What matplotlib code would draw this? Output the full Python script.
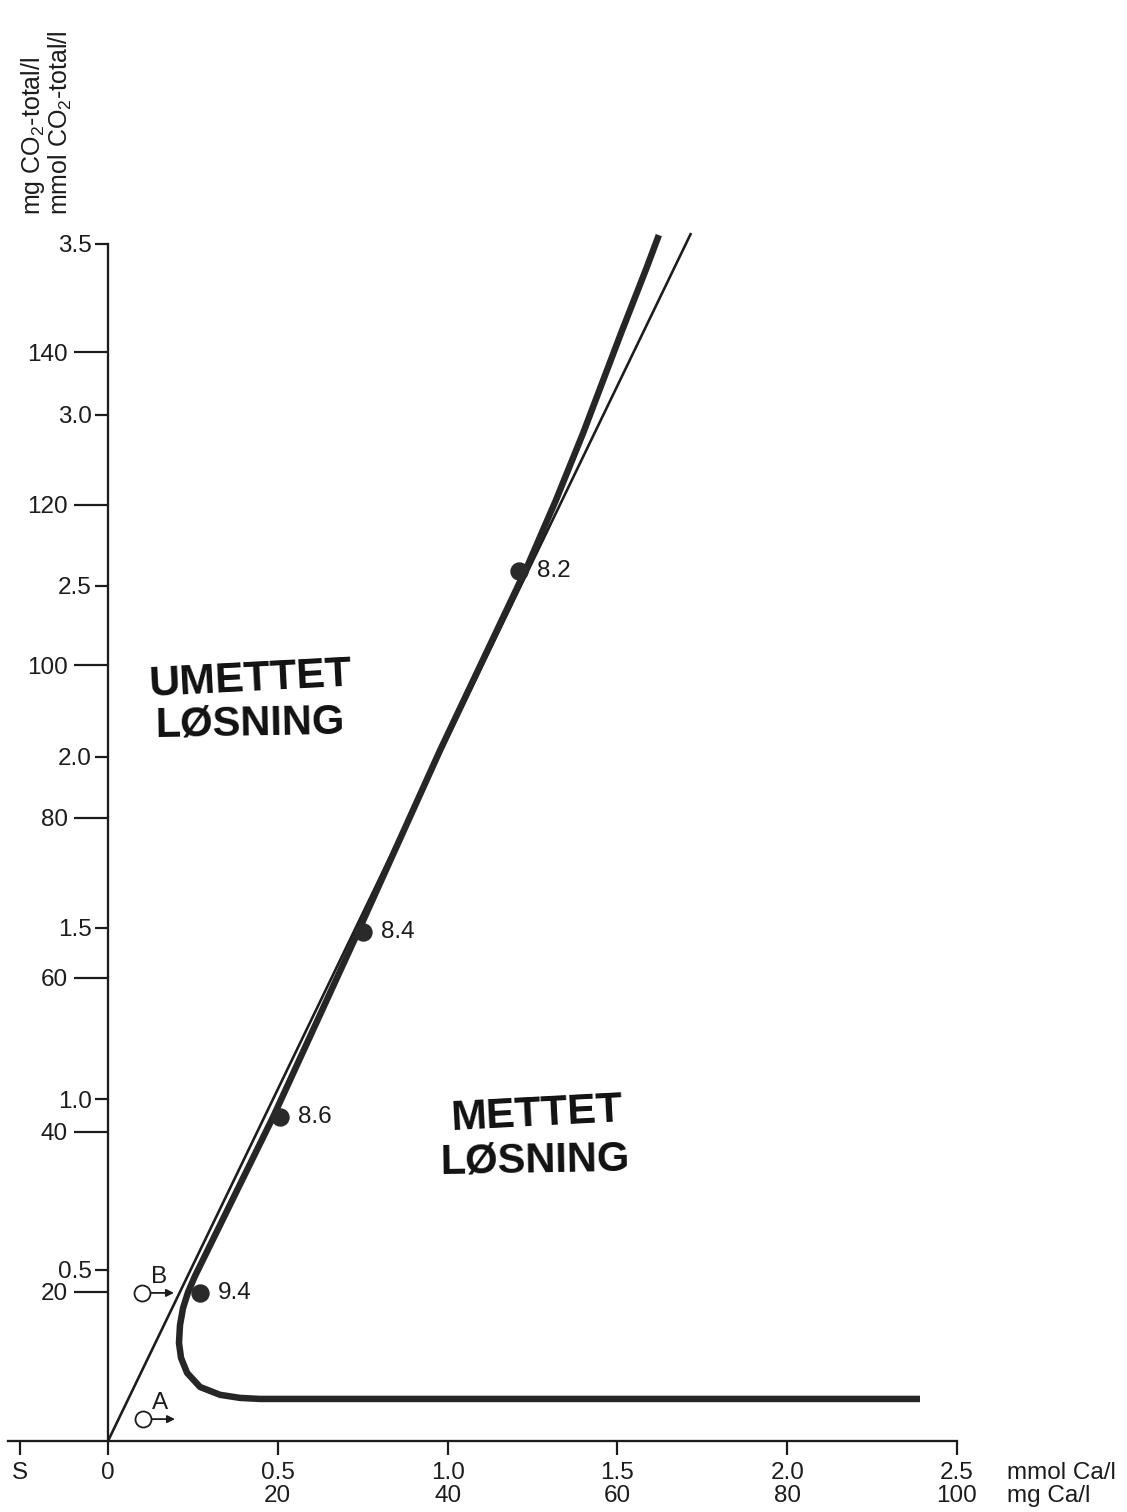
import matplotlib
matplotlib.use('Agg')
import matplotlib.pyplot as plt

plt.rcParams['font.family'] = ['Liberation Sans', 'DejaVu Sans']
plt.rcParams['mathtext.fontset'] = 'custom'
plt.rcParams['mathtext.rm'] = 'Liberation Sans'
plt.rcParams['mathtext.it'] = 'Liberation Sans:italic'

INK = '#1c1c1c'

# ---------------- data (mmol/l) ----------------
# thin reference line (CO2-total vs Ca)
line_ca = [0.0, 1.717]
line_co2 = [0.0, 3.532]

# thick saturation curve
curve_ca = [2.391, 0.448, 0.389, 0.330, 0.271, 0.233, 0.215, 0.209, 0.212,
            0.221, 0.236, 0.256, 0.486, 0.736, 0.978, 1.234, 1.319, 1.399,
            1.511, 1.587, 1.622]
curve_co2 = [0.123, 0.123, 0.126, 0.135, 0.158, 0.199, 0.243, 0.287, 0.339,
             0.389, 0.436, 0.482, 0.947, 1.488, 2.020, 2.556, 2.751, 2.947,
             3.240, 3.433, 3.526]

# pH points on the curve
ph_labels = ['9.4', '8.6', '8.4', '8.2']
ph_ca = [0.271, 0.506, 0.751, 1.210]
ph_co2 = [0.433, 0.947, 1.488, 2.544]

# start points A and B
start_labels = ['A', 'B']
start_ca = [0.103, 0.100]
start_co2 = [0.064, 0.433]

# axis ticks
y_mmol_ticks = [0.5, 1.0, 1.5, 2.0, 2.5, 3.0, 3.5]
y_mg_ticks = [20, 40, 60, 80, 100, 120, 140]
# where each mg CO2 tick falls on the mmol scale
y_mg_tick_mmol = [0.436, 0.904, 1.354, 1.822, 2.269, 2.737, 3.184]
x_mmol_ticks = [0.0, 0.5, 1.0, 1.5, 2.0, 2.5]
x_mg_ticks = [None, 20, 40, 60, 80, 100]
s_tick = -0.26

# ---------------- figure ----------------
W, H = 1127, 1512
fig = plt.figure(figsize=(W / 100, H / 100), dpi=100)
ax = fig.add_axes([0, 0, 1, 1])
ax.patch.set_alpha(0)

sx = 339.6   # px per mmol (x)
sy = 342.0   # px per mmol (y)
x0px, y0px = 108, 1441
ax.set_xlim(-x0px / sx, (W - x0px) / sx)
ax.set_ylim(-(H - y0px) / sy, y0px / sy)

PT = 0.72  # points per pixel at 100 dpi

# spines
for s in ['top', 'right']:
    ax.spines[s].set_visible(False)
ax.spines['left'].set_position(('data', 0))
ax.spines['bottom'].set_position(('data', 0))
ax.spines['left'].set_bounds(0, 3.5)
ax.spines['bottom'].set_bounds(-0.295, 2.5)
for s in ['left', 'bottom']:
    ax.spines[s].set_linewidth(2.3 * PT)
    ax.spines[s].set_color(INK)

# y ticks: mmol (major, short) and mg (minor, long)
ax.set_yticks(y_mmol_ticks, labels=[f'{v:.1f}' for v in y_mmol_ticks])
ax.set_yticks(y_mg_tick_mmol, labels=[str(v) for v in y_mg_ticks], minor=True)
ax.tick_params(axis='y', which='major', direction='out', length=13 * PT,
               width=2.2 * PT, pad=3 * PT, labelsize=17.5, colors=INK)
ax.tick_params(axis='y', which='minor', direction='out', length=34 * PT,
               width=2.2 * PT, pad=6 * PT, labelsize=17.5, colors=INK)

# x ticks
xt = [s_tick] + x_mmol_ticks
xl = ['S'] + [f'{m:g}' if g is None else f'{m:.1f}\n{g}'
              for m, g in zip(x_mmol_ticks, x_mg_ticks)]
ax.set_xticks(xt, labels=xl)
ax.tick_params(axis='x', which='major', direction='out', length=14 * PT,
               width=2.2 * PT, pad=7 * PT, labelsize=17.5, colors=INK)
for lab in ax.get_xticklabels():
    lab.set_linespacing(1.05)

# x unit labels
ax.annotate('mmol Ca/l\nmg Ca/l', xy=(2.647, 0), xycoords='data',
            xytext=(0, -21), textcoords='offset pixels', ha='left', va='top',
            fontsize=17.5, color=INK, linespacing=1.05)

# y unit labels (rotated, at top left)
fig.text(33 / W, 1 - 215 / H, 'mg CO$_2$-total/l', rotation=90, ha='center',
         va='bottom', fontsize=18, color=INK)
fig.text(60 / W, 1 - 215 / H, 'mmol CO$_2$-total/l', rotation=90, ha='center',
         va='bottom', fontsize=18, color=INK)

# lines
ax.plot(line_ca, line_co2, color=INK, lw=2.6 * PT, solid_capstyle='butt',
        zorder=3)
ax.plot(curve_ca, curve_co2, color='#262626', lw=6.5 * PT,
        solid_capstyle='butt', solid_joinstyle='round', zorder=4)

# pH points
ax.plot(ph_ca, ph_co2, 'o', color='#2a2a2a', ms=17 * PT, mec='#2a2a2a',
        zorder=5)
for lab, x, y in zip(ph_labels, ph_ca, ph_co2):
    ax.annotate(lab, xy=(x, y), xytext=(18, 0), textcoords='offset pixels',
                ha='left', va='center', fontsize=17.5, color=INK)

# start points A, B with arrows
ax.plot(start_ca, start_co2, 'o', ms=16 * PT, mfc='white', mec=INK,
        mew=1.8 * PT, zorder=5)
for lab, x, y in zip(start_labels, start_ca, start_co2):
    ax.annotate('', xy=(x + 32 / sx, y), xytext=(x + 8 / sx, y),
                arrowprops=dict(arrowstyle='-|>', lw=1.8 * PT, color=INK,
                                mutation_scale=11, shrinkA=0, shrinkB=0))
    ax.annotate(lab, xy=(x, y), xytext=(17, 16), textcoords='offset pixels',
                ha='center', va='center', fontsize=17.5, color=INK)

# hand-written region names
hand = dict(family=['Liberation Sans Narrow', 'Liberation Sans'],
            fontweight='bold', color='#111111', ha='center', va='center')
ax.text(0.418, 2.225, 'UMETTET', fontsize=31, rotation=3, **hand)
ax.text(0.418, 2.095, 'L\u00d8SNING', fontsize=30, rotation=1, **hand)
ax.text(1.262, 0.955, 'METTET', fontsize=31, rotation=3, **hand)
ax.text(1.258, 0.818, 'L\u00d8SNING', fontsize=30, rotation=1, **hand)

fig.savefig('out.png', dpi=100)
